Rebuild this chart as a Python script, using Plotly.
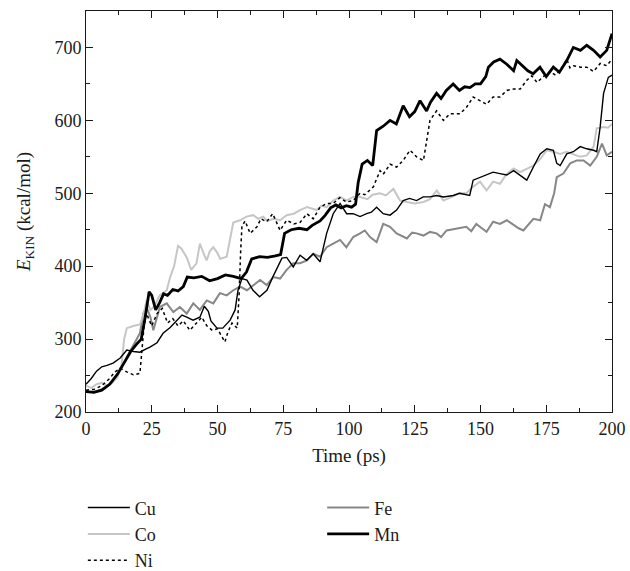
import plotly.graph_objects as go

# ---- data (time in ps, kinetic energy in kcal/mol) ----
cu_t = [0,2,4,6,8,10.3,13,15.5,18,20.5,22.5,24.3,27,29.3,32,34.6,36.5,38.3,40.7,43.3,45,46.5,47.5,49.8,52,54.8,56.7,57.8,59.3,61.2,63.5,66,68.8,71,74.5,76.3,78.8,81.4,83.9,86.4,89,91.5,94,96.6,99.1,101.6,104.2,106.7,108.5,110.5,113,115.6,118.1,120.6,123,125.7,128.2,130.8,133.3,135.9,139.6,142,145.9,147.2,149.8,152.3,154.8,157.4,160,162.6,165,167.6,170.1,172.7,175.2,177.7,179,180.3,182.8,185.3,187.9,190.4,193,194.2,195.5,196.8,198.6,200]
cu_e = [238,246,256,262,264,267,274,285,283,282,286,289,295,308,316,326,333,330,326,330,345,338,325,315,315,326,340,367,383,381,367,358,367,385,411,412,399,415,408,417,406,445,472,486,472,472,468,472,474,481,472,470,477,490,493,490,495,495,497,495,497,500,497,518,522,525,529,527,525,531,525,518,536,554,561,559,541,538,554,557,564,561,559,557,591,637,659,662]

co_t = [0,2,4,6,8,10,12,13.5,14.5,15.5,18,20.5,22,23,24.5,26,28,30.7,32,33.5,35,36.3,38.3,40,42,43.3,45,45.9,47,48.4,50,51,53.5,55,56,58.6,61,63.6,65.5,67.4,69,71.2,73.8,76.3,79,81.4,84,87.7,89.5,91.5,94,96.6,99.1,101.6,104.2,107,109,111.8,114,116.9,119.4,122,125,128.3,130.8,133.4,135.9,138.5,142,144.6,147.2,149.8,152.3,154.8,157.4,160,162.6,165,167.6,170.1,172.7,175.2,177.7,180.3,182.8,185.3,187.9,190.4,193,194.2,196.8,198.5,200]
co_e = [236,233,238,240,236,240,248,265,300,315,318,320,335,353,340,345,360,367,385,400,428,424,412,395,404,431,415,408,420,426,418,410,413,440,460,463,468,470,465,468,462,465,463,470,472,477,481,477,483,481,490,495,490,495,495,492,498,500,497,506,490,488,486,488,492,504,490,494,500,500,509,516,504,516,513,527,534,529,534,538,547,559,557,554,557,554,550,552,564,589,591,590,595]

ni_t = [0,3,6,9,11,13,15.5,18,20.5,21.3,22,23,25,27,29,31,33,35,37,39.5,42,44,46,48,50,51.5,52.8,54,55.5,57.5,58.2,58.8,59.3,60.5,62.4,65,66.5,68.7,71,73.8,76.3,79,81.4,84,86.4,89,91.5,94,96.5,99,101.6,104.2,106,109.3,111.8,113,115.6,118.1,120.6,123.2,125.7,128.3,129.5,130.8,133.3,135.9,138.4,142.2,144.7,147.2,149.8,152.3,154.8,157.4,160,162.6,165.1,167.6,169.5,171.5,173.9,176.4,178.5,180.3,181.5,182.8,184,185.3,188,190.4,193,195.5,198,200]
ni_e = [230,231,236,246,255,260,255,251,253,285,315,335,318,335,342,322,328,318,325,312,322,330,318,312,314,305,296,310,322,315,360,420,455,462,445,454,465,461,472,449,463,458,460,472,465,481,486,486,494,488,490,500,498,509,531,526,540,536,545,559,550,545,572,600,613,600,609,609,618,632,627,622,632,632,641,643,643,655,661,652,660,667,662,669,676,684,672,675,673,673,667,678,675,684]

fe_t = [0,3,6,9,12,15,18,20.5,21.8,23,24.5,25.6,27,28.1,30.7,33.2,35.7,38.3,40.8,43.3,45.9,48.4,50.9,53.5,56,58.6,61.2,63.6,66.2,68.7,71.2,73.8,76.3,78.8,81.4,84,86.4,89,91.5,94,96.6,99,101.6,104.2,106,108,110.5,113,115.6,118.1,120,122,124,125.7,128.3,130.8,133.3,135,137.1,140.9,144.6,146.5,148.4,150.5,152.3,154.8,157.4,160,162.6,164.5,166.3,168.5,170.1,172.7,174.5,176.4,178,179,181.5,184.1,186.6,189.2,191.7,194.2,196.2,198,200]
fe_e = [228,227,231,238,252,272,292,308,335,344,330,312,330,344,349,337,344,335,349,340,353,349,363,360,367,372,367,374,381,374,385,383,395,404,404,408,417,413,426,431,436,426,440,445,449,440,433,458,454,445,442,438,446,445,442,447,445,440,449,452,454,448,458,452,447,461,458,463,456,452,449,458,465,463,485,481,500,522,527,541,545,545,538,550,568,552,557]

mn_t = [0,3,6,9,12,15,17,19,21,22.5,24,25,26.5,28,29.5,31,33,35,37,38.5,41,44,47,50,53,56,59,61,63,66,69,72,74,75.5,78,81,84,86,89,91,93,95,97,99,101,102.5,103.5,105,107,109,110.5,113,115.6,118,120.6,123,125,127,129.5,131,133.3,135,137,139.6,142,144,146,148,150,152,153,155,157.4,160,162.6,163.8,166.3,168,170,172.6,175,177.7,180,182.8,185.3,188,190.4,193,195.5,198,200]
mn_e = [228,227,230,238,252,270,283,292,300,330,365,360,340,350,362,360,368,366,372,385,384,386,380,383,388,386,383,392,410,413,412,414,416,445,450,452,450,456,462,470,480,484,480,483,481,485,515,540,545,538,586,592,600,595,620,605,612,627,613,625,637,630,641,650,641,646,645,650,650,660,673,680,684,677,668,682,673,668,664,673,660,673,666,682,700,696,703,696,687,696,719]

names = ["Cu", "Co", "Ni", "Fe", "Mn"]
colors = ["#000000", "#c6c6c6", "#000000", "#878787", "#000000"]
widths = [1.4, 2.0, 1.5, 2.0, 2.8]
dashes = ["solid", "solid", "dot", "solid", "solid"]
legends = ["legend", "legend", "legend", "legend2", "legend2"]
series_t = [cu_t, co_t, ni_t, fe_t, mn_t]
series_e = [cu_e, co_e, ni_e, fe_e, mn_e]

x_ticks = [0, 25, 50, 75, 100, 125, 150, 175, 200]
y_ticks = [200, 300, 400, 500, 600, 700]

FONT = "Liberation Serif"
INK = "#1a1a1a"

fig = go.Figure()
draw_order = [3, 1, 0, 2, 4]  # gray lines beneath the black ones
for i in draw_order:
    fig.add_trace(go.Scatter(
        x=series_t[i], y=series_e[i], mode="lines", name=names[i],
        line=dict(color=colors[i], width=widths[i], dash=dashes[i]),
        legend=legends[i], legendrank=i + 1,
    ))

axis_common = dict(
    showline=True, linecolor=INK, linewidth=1, mirror="allticks",
    ticks="inside", ticklen=7, tickwidth=1, tickcolor=INK,
    showgrid=False, zeroline=False,
    tickfont=dict(family=FONT, size=18, color=INK),
)

legend_common = dict(
    xref="paper", yref="container", xanchor="left", yanchor="top",
    font=dict(family=FONT, size=18, color=INK), bgcolor="rgba(0,0,0,0)",
    tracegroupgap=0, itemwidth=42,
)

fig.update_layout(
    width=630, height=571,
    margin=dict(l=86, r=18, t=11, b=159, autoexpand=False),
    paper_bgcolor="white", plot_bgcolor="white",
    font=dict(family=FONT, size=18, color=INK),
    xaxis=dict(range=[0, 200], tickvals=x_ticks,
               minor=dict(ticks="inside", ticklen=4, dtick=12.5, tick0=0, tickcolor=INK),
               title=dict(text="Time (ps)", font=dict(family=FONT, size=19, color=INK), standoff=11),
               **axis_common),
    yaxis=dict(range=[200, 750], tickvals=y_ticks,
               minor=dict(ticks="inside", ticklen=4, dtick=50, tick0=0, tickcolor=INK),
               title=dict(text="<i>E</i><sub>KIN</sub> (kcal/mol)", font=dict(family=FONT, size=19, color=INK), standoff=18),
               **axis_common),
    legend=dict(x=-0.006, y=0.143, **legend_common),
    legend2=dict(x=0.449, y=0.143, **legend_common),
    showlegend=True,
)

fig.write_html("out.html")
